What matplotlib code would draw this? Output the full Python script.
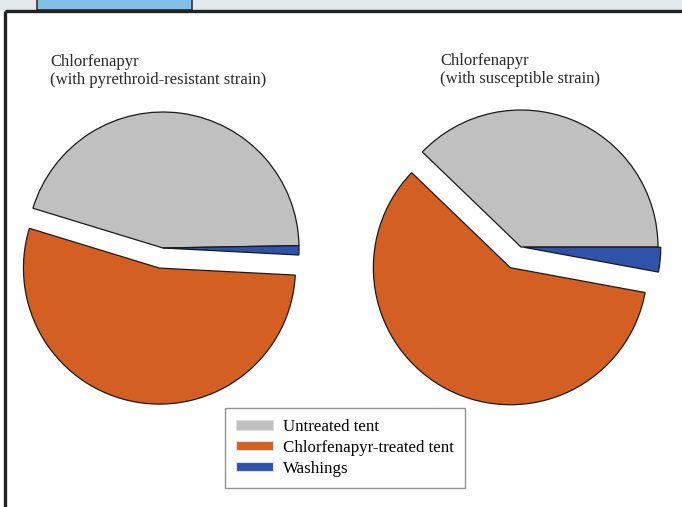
import matplotlib
matplotlib.use("Agg")
from matplotlib import pyplot as plt
from matplotlib.patches import Rectangle
import numpy as np

#~~~~~~~~~~~~~~~~~~~~~~~~~~~~~~~~~~~~~~~~~~~~~~~~~~~~~~~
# data
#~~~~~~~~~~~~~~~~~~~~~~~~~~~~~~~~~~~~~~~~~~~~~~~~~~~~~~~
categories = ["Untreated tent", "Chlorfenapyr-treated tent", "Washings"]
colors = ["#c0c0c0", "#d45f22", "#2f52aa"]

resistant_vals = [45.0, 53.9, 1.1]
susceptible_vals = [37.8, 59.3, 2.9]

titles = ["Chlorfenapyr\n(with pyrethroid-resistant strain)",
          "Chlorfenapyr\n(with susceptible strain)"]

plt.rcParams['font.family'] = ['Liberation Serif', 'DejaVu Serif']

W, H = 682, 507
fig = plt.figure(figsize=(W / 100, H / 100), dpi=100)
fig.patch.set_facecolor("white")

# frame decoration (top strip, tab, borders)
bg = fig.add_axes([0, 0, 1, 1])
bg.set_xlim(0, W)
bg.set_ylim(H, 0)
bg.axis("off")
bg.add_patch(Rectangle((0, 0), W, 10.5, facecolor="#e4e8eb", edgecolor="none"))
bg.add_patch(Rectangle((37, -2), 155, 12, facecolor="#80c0ea", edgecolor="#333333", lw=1.2))
bg.plot([4.5, W], [10.5, 10.5], color="#222222", lw=2.4, solid_capstyle="butt")
bg.plot([4.5, 4.5], [10.5, H], color="#222222", lw=2.4, solid_capstyle="butt")


def draw_pie(cx, cy, r, vals, start, explode, title, tx, ty):
    L = 1.3
    size = 2 * L * r
    ax = fig.add_axes([(cx - size / 2) / W, (H - cy - size / 2) / H, size / W, size / H])
    ax.pie(vals, colors=colors, startangle=start, counterclock=True, explode=explode,
           wedgeprops=dict(edgecolor="#1a1a1a", linewidth=0.9))
    ax.set_xlim(-L, L)
    ax.set_ylim(-L, L)
    ax.set_aspect("equal")
    ax.axis("off")
    bg.text(tx, ty, title, fontsize=12, ha="left", va="center", linespacing=1.1,
            color="#2a2a2a")
    return ax


ax1 = draw_pie(163, 248, 136, resistant_vals, 1, [0, 0.15, 0], titles[0], 50, 71)
ax2 = draw_pie(521, 247, 137, susceptible_vals, 0, [0, 0.17, 0.02], titles[1], 440, 70)

handles = [Rectangle((0, 0), 1, 1, facecolor=c, edgecolor="#dddddd", lw=0.8) for c in colors]
leg = fig.legend(handles, categories, loc="upper left",
                 bbox_to_anchor=(225 / W, 1 - 408 / H), fontsize=12.2,
                 frameon=True, fancybox=False, edgecolor="#777777",
                 handlelength=2.2, handleheight=0.45, handletextpad=0.6,
                 labelspacing=0.28, borderpad=0.65, borderaxespad=0)
leg.get_frame().set_linewidth(1.0)

fig.savefig("out.png", dpi=100)
